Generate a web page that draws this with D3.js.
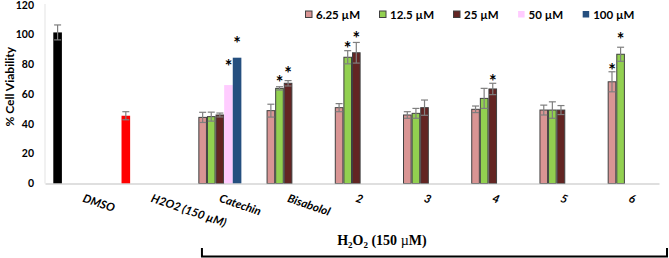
<!DOCTYPE html>
<html>
<head>
<meta charset="utf-8">
<script src="https://cdn.jsdelivr.net/npm/d3@7/dist/d3.min.js"></script>
<style>
  html, body { margin: 0; padding: 0; background: #fff; }
  svg { display: block; }
</style>
</head>
<body>
<svg id="chart" width="669" height="258"></svg>
<script>
// ---------- data ----------
const categories = ["DMSO", "H2O2 (150 µM)", "Catechin", "Bisabolol", "2", "3", "4", "5", "6"];
const seriesNames = ["6.25 µM", "12.5 µM", "25 µM", "50 µM", "100 µM"];
const yTicks = [0, 20, 40, 60, 80, 100, 120];

const controlValues = [101, 45.3, null, null, null, null, null, null, null];
const controlErrors = [5, 2.7, null, null, null, null, null, null, null];
const values625 = [null, null, 44.2, 48.7, 50.7, 45.8, 49.6, 49.1, 68.0];
const errors625 = [null, null, 3.4, 4.3, 2.7, 2.2, 2.2, 3.3, 6.7];
const values125 = [null, null, 44.7, 63.6, 84.4, 46.9, 56.9, 49.1, 86.4];
const errors125 = [null, null, 3.0, 1.1, 4.4, 3.3, 6.7, 5.5, 4.7];
const values25 = [null, null, 45.8, 67.0, 87.4, 50.7, 63.2, 49.1, null];
const errors25 = [null, null, 1.3, 1.8, 6.9, 5.1, 3.8, 3.0, null];
const values50 = [null, null, 65.8, null, null, null, null, null, null];
const errors50 = [null, null, null, null, null, null, null, null, null];
const values100 = [null, null, 84.1, null, null, null, null, null, null];
const errors100 = [null, null, null, null, null, null, null, null, null];

// significance stars: category, series, level (in % viability units)
const starCats = ["Catechin", "Catechin", "Bisabolol", "Bisabolol", "2", "2", "4", "6", "6"];
const starSeries = ["50 µM", "100 µM", "12.5 µM", "25 µM", "12.5 µM", "25 µM", "25 µM", "6.25 µM", "12.5 µM"];
const starLevels = [80.4, 96.4, 69.9, 75.9, 93.0, 99.7, 70.5, 78.1, 98.6];

// ---------- styling ----------
const controlColors = ["#000000", "#ff0000"];
const seriesColors = ["#d99594", "#92d050", "#632523", "#ffccff", "#254f7f"];
const seriesStroke = ["#404040", "#404040", "#404040", "none", "none"];
const sansFont = "Lato, 'Open Sans', sans-serif";

const svg = d3.select("#chart");
const plotLeft = 45, plotRight = 659, plotTop = 4, plotBottom = 183.5;

const x = d3.scaleBand().domain(categories).range([plotLeft, plotRight]).padding(0);
const slots = ["control"].concat(seriesNames);
const pad = 8.3;
const x1 = d3.scaleBand().domain(slots).range([pad, x.bandwidth() - pad]).padding(0);
const y = d3.scaleLinear().domain([0, 120]).range([plotBottom, plotTop]);

// records
const allSeries = [
  { key: "control", values: controlValues, errors: controlErrors },
  { key: seriesNames[0], values: values625, errors: errors625 },
  { key: seriesNames[1], values: values125, errors: errors125 },
  { key: seriesNames[2], values: values25, errors: errors25 },
  { key: seriesNames[3], values: values50, errors: errors50 },
  { key: seriesNames[4], values: values100, errors: errors100 }
];
const recs = [];
allSeries.forEach((s, si) => {
  s.values.forEach((v, ci) => {
    if (v == null) return;
    recs.push({
      cat: categories[ci], slot: s.key, value: v, err: s.errors[ci],
      fill: si === 0 ? controlColors[ci] : seriesColors[si - 1],
      stroke: si === 0 ? "none" : seriesStroke[si - 1]
    });
  });
});

// ---------- y axis ----------
const yAxis = d3.axisLeft(y).tickValues(yTicks).tickSize(0).tickPadding(3);
const gy = svg.append("g").attr("transform", `translate(37,0)`).call(yAxis);
gy.select(".domain").remove();
gy.selectAll("text")
  .attr("font-family", sansFont)
  .attr("font-weight", "bold")
  .attr("font-size", 10.5)
  .attr("fill", "#000")
  .attr("y", d => d === 120 ? 1.2 : 0);

// faint vertical axis line
svg.append("line")
  .attr("x1", plotLeft).attr("x2", plotLeft)
  .attr("y1", y(120)).attr("y2", y(0))
  .attr("stroke", "#e3e3e3").attr("stroke-width", 1);

svg.append("text")
  .attr("transform", `translate(14,${(y(0) + y(120)) / 2 - 7}) rotate(-90)`)
  .attr("text-anchor", "middle")
  .attr("font-family", sansFont)
  .attr("font-weight", "bold")
  .attr("font-size", 12)
  .attr("fill", "#000")
  .text("% Cell Viability");

// ---------- bars ----------
const barW = x1.bandwidth();
svg.append("g").selectAll("rect").data(recs).join("rect")
  .attr("x", d => x(d.cat) + x1(d.slot) + (d.stroke === "none" ? 0 : 0.5))
  .attr("y", d => y(d.value))
  .attr("width", d => barW - (d.stroke === "none" ? 0 : 1))
  .attr("height", d => y(0) - y(d.value))
  .attr("fill", d => d.fill)
  .attr("stroke", d => d.stroke)
  .attr("stroke-width", 1);

// ---------- x axis ----------
const xAxis = d3.axisBottom(x).tickSize(0).tickSizeOuter(0).tickPadding(0);
const gx = svg.append("g").attr("transform", `translate(0,${plotBottom})`).call(xAxis);
gx.select(".domain").attr("stroke", "#bfbfbf").attr("stroke-width", 1.2);
gx.selectAll("text")
  .attr("x", 0).attr("y", 0).attr("dy", null)
  .attr("text-anchor", "start")
  .attr("transform", "translate(3,18) rotate(19)")
  .attr("font-family", sansFont)
  .attr("font-weight", "bold")
  .attr("font-style", "italic")
  .attr("font-size", 11.5)
  .attr("fill", "#000");

// ---------- error bars ----------
const eg = svg.append("g").attr("stroke", "#7f7f7f").attr("stroke-width", 1.2).attr("fill", "none");
recs.filter(d => d.err != null).forEach(d => {
  const cx = x(d.cat) + x1(d.slot) + barW / 2;
  const y1 = y(d.value + d.err), y2 = y(d.value - d.err);
  eg.append("line").attr("x1", cx).attr("x2", cx).attr("y1", y1).attr("y2", y2);
  eg.append("line").attr("x1", cx - 3.5).attr("x2", cx + 3.5).attr("y1", y1).attr("y2", y1);
  eg.append("line").attr("x1", cx - 3.5).attr("x2", cx + 3.5).attr("y1", y2).attr("y2", y2);
});

// ---------- stars ----------
svg.append("g").selectAll("text").data(starLevels).join("text")
  .attr("x", (d, i) => x(starCats[i]) + x1(starSeries[i]) + barW / 2)
  .attr("y", d => y(d))
  .attr("dy", "0.57em")
  .attr("text-anchor", "middle")
  .attr("font-family", sansFont)
  .attr("font-weight", "bold")
  .attr("font-size", 18)
  .attr("fill", "#000")
  .text("*");

// ---------- legend ----------
const lg = svg.append("g");
let lx = 305;
seriesNames.forEach((name, i) => {
  const item = lg.append("g").attr("transform", `translate(${lx},0)`);
  item.append("rect")
    .attr("x", 0.5).attr("y", 11).attr("width", 6.5).attr("height", 6.5)
    .attr("fill", seriesColors[i])
    .attr("stroke", seriesStroke[i] === "none" ? "none" : "#404040");
  const t = item.append("text")
    .attr("x", 11).attr("y", 18.5)
    .attr("font-family", sansFont)
    .attr("font-weight", "bold")
    .attr("font-size", 11.5)
    .attr("fill", "#000")
    .text(name);
  lx += 11 + t.node().getComputedTextLength() + 19;
});

// ---------- bracket ----------
const bLeft = x("Catechin") + 20.5;
const bRight = x("6") + x.bandwidth() + 8;
svg.append("path")
  .attr("d", `M${bLeft},248 V256.5 H${bRight} V248`)
  .attr("fill", "none").attr("stroke", "#000").attr("stroke-width", 2);
const bt = svg.append("text")
  .attr("x", x("2") + 64).attr("y", 245)
  .attr("text-anchor", "middle")
  .attr("font-family", "'Liberation Serif', 'Times New Roman', serif")
  .attr("font-weight", "bold")
  .attr("font-size", 14)
  .attr("fill", "#000");
bt.append("tspan").text("H");
bt.append("tspan").attr("font-size", 9).attr("dy", 3).text("2");
bt.append("tspan").attr("dy", -3).text("O");
bt.append("tspan").attr("font-size", 9).attr("dy", 3).text("2");
bt.append("tspan").attr("dy", -3).text(" (150 ");
bt.append("tspan").attr("font-weight", "normal").text("µ");
bt.append("tspan").text("M)");
</script>
</body>
</html>
